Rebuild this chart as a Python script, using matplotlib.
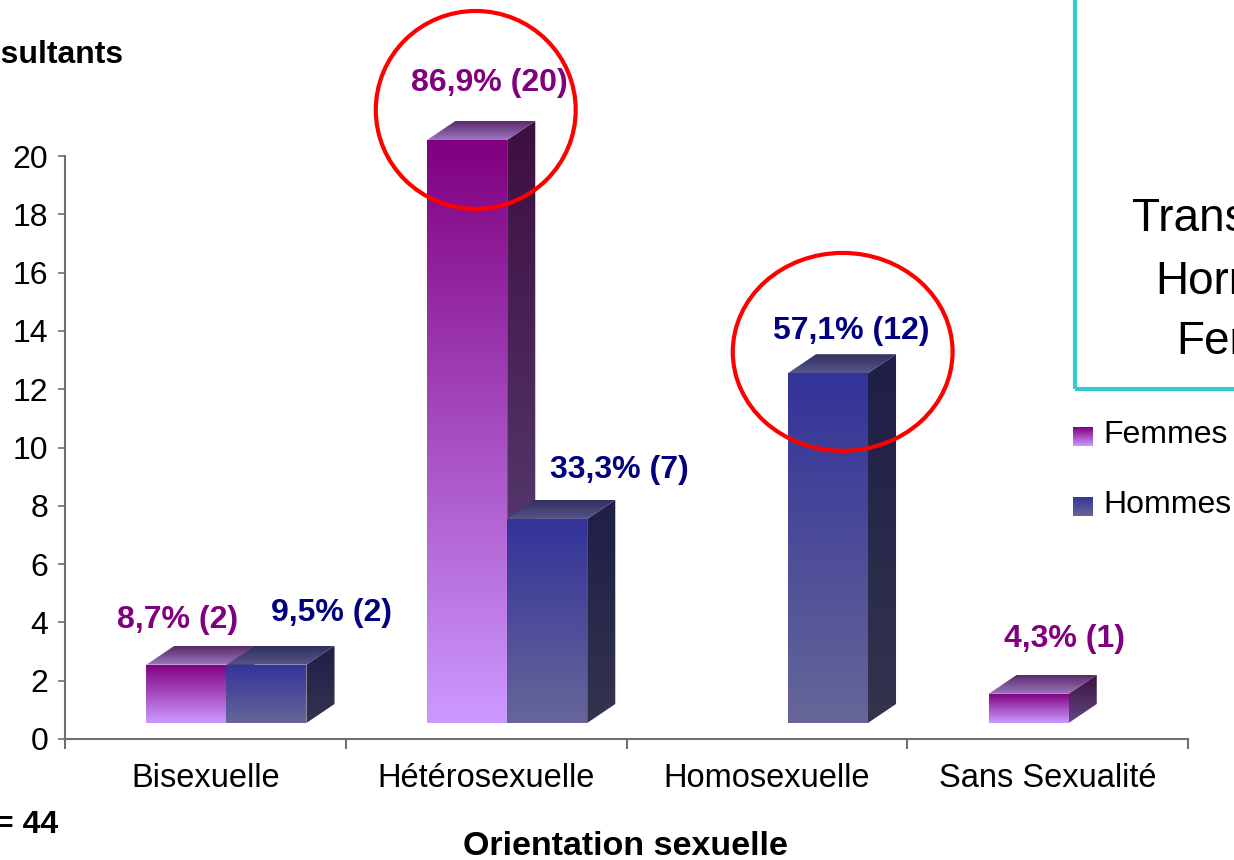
import numpy as np
import matplotlib.pyplot as plt
from matplotlib.patches import Polygon, Ellipse, Rectangle

plt.rcParams['font.family'] = ['Liberation Sans', 'DejaVu Sans']

# data
categories = ['Bisexuelle', 'Hétérosexuelle', 'Homosexuelle', 'Sans Sexualité']
femmes = [2, 20, 0, 1]
hommes = [2, 7, 12, 0]
femmes_labels = ['8,7% (2)', '86,9% (20)', '', '4,3% (1)']
hommes_labels = ['9,5% (2)', '33,3% (7)', '57,1% (12)', '']
yticks = [0, 2, 4, 6, 8, 10, 12, 14, 16, 18, 20]

# layout of the fake-3D bars (data units)
floor = 0.55
bar_w = 0.285
shift = 0.075
dx, dy = 0.1, 0.65

c_fem = dict(front=('#cc99ff', '#800080'), side=('#5e4a80', '#3e0e40'),
             top=('#9a78c0', '#5a2a6a'), text='#800080')
c_hom = dict(front=('#666699', '#333399'), side=('#34344e', '#1e1e48'),
             top=('#55558a', '#303060'), text='#000080')


def grad(c0, c1, n=128):
    a = np.array(plt.matplotlib.colors.to_rgb(c0))
    b = np.array(plt.matplotlib.colors.to_rgb(c1))
    t = np.linspace(0, 1, n)[:, None]
    return (a + (b - a) * t)[:, None, :]


def shaded(ax, verts, cols, z):
    poly = Polygon(verts, closed=True, facecolor='none', edgecolor='none')
    ax.add_patch(poly)
    xs = [v[0] for v in verts]
    ys = [v[1] for v in verts]
    im = ax.imshow(grad(*cols), extent=(min(xs), max(xs), min(ys), max(ys)),
                   origin='lower', aspect='auto', zorder=z, interpolation='bilinear')
    im.set_clip_path(poly)


def box3d(ax, x0, h, cols, z):
    x1 = x0 + bar_w
    b, t = floor, floor + h
    shaded(ax, [(x1, b), (x1 + dx, b + dy), (x1 + dx, t + dy), (x1, t)], cols['side'], z)
    shaded(ax, [(x0, t), (x1, t), (x1 + dx, t + dy), (x0 + dx, t + dy)], cols['top'], z)
    shaded(ax, [(x0, b), (x1, b), (x1, t), (x0, t)], cols['front'], z + 0.5)


fig = plt.figure(figsize=(12.34, 8.6), dpi=100)
ax = fig.add_axes([65 / 1234, 1 - 739 / 860, 1123 / 1234, 699.6 / 860])

x = np.arange(len(categories))
for i in x:
    z = 2 + i
    if femmes[i]:
        box3d(ax, i + shift - bar_w, femmes[i], c_fem, z)
    if hommes[i]:
        box3d(ax, i + shift, hommes[i], c_hom, z + 0.1)

ax.set_xlim(-0.5, 3.5)
ax.set_ylim(0, 24)

# value labels
fem_off = [(-0.10, 1.53), (0.01, 1.95), (0, 0), (0.06, 1.88)]
hom_off = [(0.45, 1.77), (0.475, 1.68), (0.30, 1.45), (0, 0)]
for i in x:
    if femmes_labels[i]:
        ax.text(i + fem_off[i][0], femmes[i] + floor + fem_off[i][1], femmes_labels[i],
                ha='center', va='center', fontsize=23, fontweight='bold', color=c_fem['text'])
    if hommes_labels[i]:
        ax.text(i + hom_off[i][0], hommes[i] + floor + hom_off[i][1], hommes_labels[i],
                ha='center', va='center', fontsize=23, fontweight='bold', color=c_hom['text'])

# red highlight circles
ax.add_patch(Ellipse((0.963, 21.58), 0.712, 6.79, fill=False, edgecolor='red',
                     linewidth=3, clip_on=False, zorder=20))
ax.add_patch(Ellipse((2.27, 13.28), 0.783, 6.79, fill=False, edgecolor='red',
                     linewidth=3, clip_on=False, zorder=20))

# axes styling
for s in ['top', 'right']:
    ax.spines[s].set_visible(False)
for s in ['left', 'bottom']:
    ax.spines[s].set_color('#707070')
    ax.spines[s].set_linewidth(1.5)
ax.spines['left'].set_bounds(0, 20)
ax.set_yticks(yticks)
ax.tick_params(axis='y', labelsize=23, length=5, width=1.2, color='#707070', pad=7)
ax.set_xticks(x)
ax.set_xticklabels(categories)
ax.set_xticks(np.arange(-0.5, 4, 1), minor=True)
ax.tick_params(axis='x', which='major', length=0, labelsize=23.5, pad=17)
ax.tick_params(axis='x', which='minor', length=7, width=1.5, color='#707070', direction='out')


def fx(px):
    return px / 1234


def fy(py):
    return 1 - py / 860


fig.text(fx(123), fy(63), 'Nombre de consultants', ha='right', va='baseline',
         fontsize=23, fontweight='bold')
fig.text(fx(58), fy(833), 'N = 44', ha='right', va='baseline', fontsize=23, fontweight='bold')
fig.text(fx(625), fy(855), 'Orientation sexuelle', ha='center', va='baseline',
         fontsize=24.5, fontweight='bold')

# info box on the right
fig.patches.append(Rectangle((fx(1075), fy(389)), 0.2, fy(-20) - fy(389),
                             transform=fig.transFigure, fill=False,
                             edgecolor='#33cccc', linewidth=3))
fig.text(fx(1132), fy(231), 'Transsexuels', ha='left', va='baseline', fontsize=33)
fig.text(fx(1155), fy(294), 'Hormonés', ha='left', va='baseline', fontsize=33)
fig.text(fx(1176), fy(354), 'Femmes', ha='left', va='baseline', fontsize=33)

# legend
for (ytop, cols, name) in [(427, c_fem, 'Femmes'), (497, c_hom, 'Hommes')]:
    lax = fig.add_axes([fx(1073), fy(ytop + 19), 20 / 1234, 19 / 860])
    lax.imshow(grad(*cols['front']), origin='lower', aspect='auto', extent=(0, 1, 0, 1))
    lax.axis('off')
    fig.text(fx(1103), fy(ytop + 8), name, ha='left', va='center', fontsize=23)

fig.savefig('out.png', dpi=100)
